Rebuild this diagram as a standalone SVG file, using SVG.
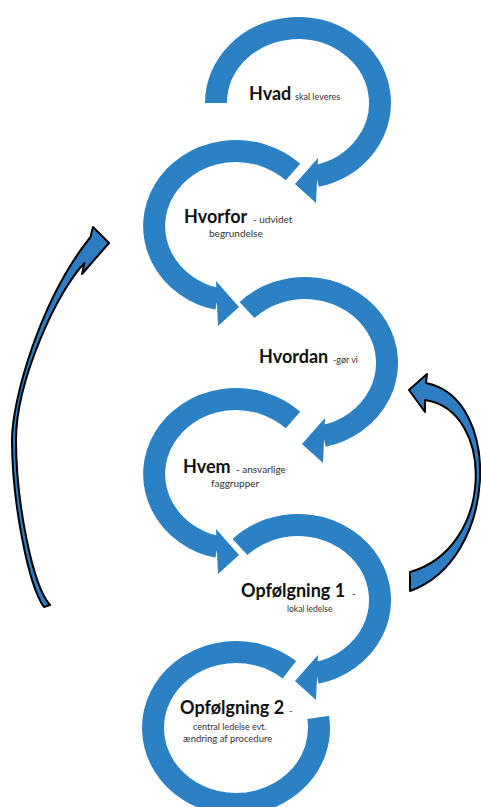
<svg xmlns="http://www.w3.org/2000/svg" width="481" height="807" viewBox="0 0 481 807">
<style>
.ring{fill:none;stroke:#2C80C4;stroke-width:22;stroke-linecap:butt}
.head{fill:#2C80C4;stroke:none}
.conn{fill:#2E7DC2;stroke:#000;stroke-width:2;stroke-linejoin:round}
.t{font-family:Lato,"Open Sans","Liberation Sans",sans-serif;font-weight:700;font-size:18px;fill:#111}
.s{font-family:Lato,"Open Sans","Liberation Sans",sans-serif;font-size:10px;fill:#333}
</style>
<rect width="481" height="807" fill="#fff"/>
<g id="hvad">
<path class="ring" d="M216,103 A82,75 0 1,1 316.4,176.1"/>
<polygon class="head" points="318,158 295,184 316,203"/>
<text class="t" x="249" y="100">Hvad</text>
<text class="s" x="295" y="100" style="font-size:9px">skal leveres</text>
</g>
<g id="hvorfor">
<path class="ring" d="M293,172 A82,75 0 1,0 217.6,299.1"/>
<polygon class="head" points="216,281 239,307 218,326"/>
<text class="t" x="184" y="223">Hvorfor</text>
<text class="s" x="253" y="223">- udvidet</text>
<text class="s" x="209" y="237">begrundelse</text>
</g>
<g id="hvordan">
<path class="ring" d="M247,310 A82,75 0 1,1 323.4,436.1"/>
<polygon class="head" points="325,418 302,444 323,463"/>
<text class="t" x="259" y="363">Hvordan</text>
<text class="s" x="333" y="363" style="font-size:9px">-gør vi</text>
</g>
<g id="hvem">
<path class="ring" d="M293,420 A82,75 0 1,0 217.6,547.1"/>
<polygon class="head" points="216,529 239,555 218,574"/>
<text class="t" x="183" y="473">Hvem</text>
<text class="s" x="236" y="473">- ansvarlige</text>
<text class="s" x="211" y="487">faggrupper</text>
</g>
<g id="opfoelgning1">
<path class="ring" d="M240,547 A82,75 0 1,1 316.4,673.1"/>
<polygon class="head" points="318,655 295,681 316,700"/>
<text class="t" x="241" y="597">Opfølgning 1</text>
<text class="s" x="352" y="597">-</text>
<text class="s" x="287" y="612" style="font-size:8.5px">lokal ledelse</text>
</g>
<g id="opfoelgning2">
<path class="ring" d="M289.4,669.8 A83,76 0 1,0 318.2,717.4"/>
<text class="t" x="180" y="714">Opfølgning 2</text>
<text class="s" x="289" y="714">-</text>
<text class="s" x="193" y="730" style="font-size:9px">central ledelse evt.</text>
<text class="s" x="183" y="742" style="font-size:9.5px">ændring af procedure</text>
</g>
<g id="connectors">
<path class="conn" d="M44,607 C28,585 12,500 12,440 C12,400 40,300 90.5,237 L93,227 L109,243 L82,274 L84.5,263 C58,290 16,380 16,440 C16,500 32,585 50,605 Z"/>
<path class="conn" d="M409,390 L427,374 L426,383 C503,398 498,560 410,591 L410,572 C495,548 495,410 425,400 L425,412 Z"/>
</g>
</svg>
